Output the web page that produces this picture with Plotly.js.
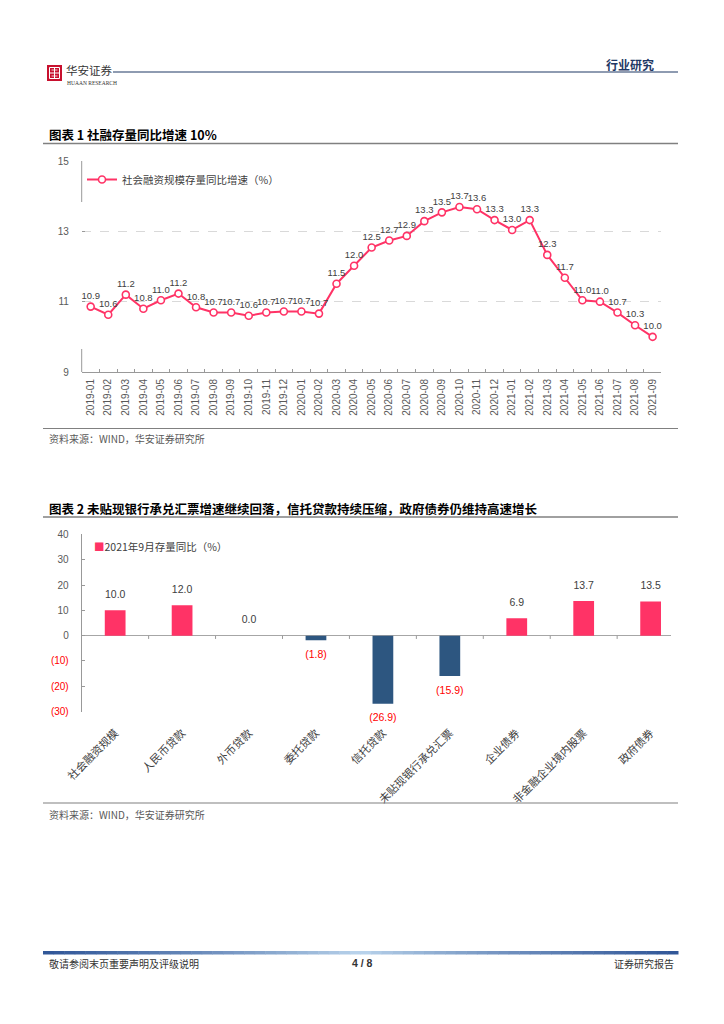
<!DOCTYPE html>
<html>
<head>
<meta charset="utf-8">
<script src="https://cdn.plot.ly/plotly-3.0.1.min.js"></script>
<style>
html,body{margin:0;padding:0;background:#ffffff;}
#chart{width:724px;height:1024px;}
</style>
</head>
<body>
<div id="chart"></div>
<script>
// ---------- DATA ----------
const months = ['2019-01','2019-02','2019-03','2019-04','2019-05','2019-06','2019-07','2019-08','2019-09','2019-10','2019-11','2019-12',
  '2020-01','2020-02','2020-03','2020-04','2020-05','2020-06','2020-07','2020-08','2020-09','2020-10','2020-11','2020-12',
  '2021-01','2021-02','2021-03','2021-04','2021-05','2021-06','2021-07','2021-08','2021-09'];
const tsfGrowth = [10.86,10.63,11.20,10.80,11.04,11.23,10.84,10.69,10.69,10.60,10.69,10.72,
  10.72,10.66,11.51,12.02,12.54,12.74,12.87,13.29,13.54,13.69,13.63,13.32,
  13.04,13.32,12.33,11.68,11.04,11.00,10.69,10.33,10.00];
const tsfSeriesName = '社会融资规模存量同比增速（%）';
const y1Ticks = [9, 11, 13, 15];

const categories = ['社会融资规模','人民币贷款','外币贷款','委托贷款','信托贷款','未贴现银行承兑汇票','企业债券','非金融企业境内股票','政府债券'];
const sep2021 = [10.0, 12.0, 0.0, -1.8, -26.9, -15.9, 6.9, 13.7, 13.5];
const barSeriesName = '2021年9月存量同比（%）';
const y2Ticks = [-30, -20, -10, 0, 10, 20, 30, 40];

// ---------- HELPERS ----------
const W = 724, H = 1024;
const px = x => x / W;
const py = y => 1 - y / H;
const PINK = '#FF3366', BLUE = '#2D5680', GRAY = '#595959';
const CJK = '"Noto Sans CJK SC", sans-serif';
const NUM = 'Arial, "Liberation Sans", "Noto Sans CJK SC", sans-serif';

const fmtBar = v => v < 0 ? '(' + (-v).toFixed(1) + ')' : v.toFixed(1);
const fmtTick = v => v < 0 ? '<span style="color:#FF0000">(' + (-v) + ')</span>' : String(v);

// ---------- TRACES ----------
const traces = [
  {
    type: 'scatter', mode: 'lines+markers+text',
    x: months, y: tsfGrowth, xaxis: 'x', yaxis: 'y',
    name: tsfSeriesName, legend: 'legend',
    line: {color: PINK, width: 2},
    marker: {symbol: 'circle', size: 7, color: '#ffffff', line: {color: PINK, width: 1.6}},
    texttemplate: '%{y:.1f}', textposition: 'top center',
    textfont: {family: NUM, size: 9.5, color: '#404040'},
    cliponaxis: false, hoverinfo: 'skip'
  },
  {
    type: 'bar', x: categories, y: sep2021, xaxis: 'x2', yaxis: 'y2',
    name: barSeriesName, showlegend: false, width: 0.31,
    marker: {color: sep2021.map(v => v < 0 ? BLUE : PINK), line: {width: 0}},
    hoverinfo: 'skip'
  },
  {
    type: 'scatter', mode: 'markers+text', x: categories, y: sep2021,
    xaxis: 'x2', yaxis: 'y2', showlegend: false,
    marker: {size: 14, opacity: 0},
    text: sep2021.map(fmtBar),
    textposition: sep2021.map(v => v < 0 ? 'bottom center' : 'top center'),
    textfont: {family: NUM, size: 10.5, color: sep2021.map(v => v < 0 ? '#FF0000' : '#404040')},
    cliponaxis: false, hoverinfo: 'skip'
  }
];

// ---------- SHAPES ----------
const shapes = [];
const line = (x0, y0, x1, y1, color, width) => shapes.push({type: 'line', xref: 'paper', yref: 'paper',
  x0: px(x0), y0: py(y0), x1: px(x1), y1: py(y1), line: {color: color, width: width}});

// header
shapes.push({type: 'rect', xref: 'paper', yref: 'paper', x0: px(47), x1: px(62), y0: py(81), y1: py(65),
  fillcolor: '#C8102E', line: {width: 0}});
shapes.push({type: 'rect', xref: 'paper', yref: 'paper', x0: px(49.5), x1: px(59.5), y0: py(78.5), y1: py(67.5),
  fillcolor: 'rgba(0,0,0,0)', line: {color: '#ffffff', width: 1}});
line(49.5, 73, 59.5, 73, '#ffffff', 1);
line(54.5, 67.5, 54.5, 78.5, '#ffffff', 1);
line(51.5, 70, 57.5, 70, '#ffffff', 0.8);
line(51.5, 76, 57.5, 76, '#ffffff', 0.8);
line(113, 72, 678, 72, '#1F3864', 1.2);

// chart 1 title + source
line(43, 143.5, 678, 143.5, '#808080', 1.5);
line(43, 428.5, 678, 428.5, '#808080', 1.2);
// chart 1 partial y axis line
line(81.7, 161, 81.7, 202, '#999999', 1);
line(81.7, 349, 81.7, 372, '#999999', 1);

// chart 2 title + source
line(43, 517, 678, 517, '#808080', 1.5);
line(43, 803, 678, 803, '#808080', 1.2);
// chart 2 boundary ticks on zero line
for (let i = 0; i < categories.length - 1; i++) {
  shapes.push({type: 'line', xref: 'x2', yref: 'y2', x0: i + 0.5, x1: i + 0.5, y0: 0, y1: -1.3,
    line: {color: '#999999', width: 1}});
}

// footer gradient bar
const segs = 60, fx0 = 43, fx1 = 678;
const c1 = [47, 85, 151], c2 = [189, 215, 238];
for (let i = 0; i < segs; i++) {
  const t = Math.abs((i + 0.5) / segs - 0.5) * 2;
  const c = c1.map((a, k) => Math.round(c2[k] + (a - c2[k]) * Math.pow(t, 0.8)));
  shapes.push({type: 'rect', xref: 'paper', yref: 'paper',
    x0: px(fx0 + (fx1 - fx0) * i / segs), x1: px(fx0 + (fx1 - fx0) * (i + 1) / segs + 0.5),
    y0: py(954.5), y1: py(951), fillcolor: 'rgb(' + c.join(',') + ')', line: {width: 0}});
}

// ---------- ANNOTATIONS ----------
const ann = (x, y, text, opts) => Object.assign({xref: 'paper', yref: 'paper', x: px(x), y: py(y), text: text,
  showarrow: false, xanchor: 'left', yanchor: 'middle', font: {family: CJK, size: 10, color: GRAY}}, opts || {});
const annotations = [
  ann(64, 70, '华安证券', {font: {family: CJK, size: 11.5, color: '#333333'}}),
  ann(65, 82.5, 'HUAAN RESEARCH', {font: {family: '"Liberation Serif", serif', size: 5.5, color: '#333333'}}),
  ann(656, 64.5, '<b>行业研究</b>', {xanchor: 'right', font: {family: CJK, size: 12, color: '#1F3864'}}),
  ann(47, 134.5, '<b>图表 1 社融存量同比增速 10%</b>', {font: {family: CJK, size: 12.5, color: '#000000'}}),
  ann(47, 438, '资料来源：WIND，华安证券研究所', {font: {family: CJK, size: 10, color: GRAY}}),
  ann(47, 508, '<b>图表 2 未贴现银行承兑汇票增速继续回落，信托贷款持续压缩，政府债券仍维持高速增长</b>',
      {font: {family: CJK, size: 12.5, color: '#000000'}}),
  ann(92, 546, '<span style="color:' + PINK + '">■</span>' + barSeriesName,
      {font: {family: CJK, size: 10.5, color: '#404040'}}),
  ann(47, 814, '资料来源：WIND，华安证券研究所', {font: {family: CJK, size: 10, color: GRAY}}),
  ann(47, 963, '敬请参阅末页重要声明及评级说明', {font: {family: CJK, size: 10, color: '#333333'}}),
  ann(362, 963, '<b>4 / 8</b>', {xanchor: 'center', font: {family: NUM, size: 10.5, color: '#333333'}}),
  ann(676, 963, '证券研究报告', {xanchor: 'right', font: {family: CJK, size: 10, color: '#333333'}})
];

// ---------- LAYOUT ----------
const layout = {
  width: W, height: H,
  margin: {l: 0, r: 0, t: 0, b: 0},
  paper_bgcolor: '#ffffff', plot_bgcolor: 'rgba(0,0,0,0)',
  showlegend: true,
  font: {family: NUM, color: GRAY},
  xaxis: {
    domain: [px(81.9), px(661.4)], anchor: 'y', type: 'category',
    range: [-0.5, months.length - 0.5], tickangle: -90,
    tickfont: {family: NUM, size: 10, color: GRAY}, ticklabelstandoff: 2,
    ticks: 'inside', tickson: 'boundaries', ticklen: 3, tickcolor: '#999999',
    showline: true, linecolor: '#999999', linewidth: 1, showgrid: false, zeroline: false,
    fixedrange: true
  },
  yaxis: {
    domain: [py(372), py(161)], anchor: 'x', range: [9, 15],
    tickvals: y1Ticks, ticks: 'inside', ticklen: 3, tickcolor: '#999999',
    tickfont: {family: NUM, size: 10, color: GRAY}, ticklabelstandoff: 12,
    showline: false, showgrid: true, gridcolor: '#D9D9D9', griddash: 'dash', gridwidth: 1,
    zeroline: false, fixedrange: true
  },
  xaxis2: {
    domain: [px(81.7), px(670.7)], anchor: 'y2', type: 'category',
    range: [-0.5, 8.3], tickangle: -45,
    tickfont: {family: CJK, size: 11, color: '#404040'}, ticklabelstandoff: 12,
    ticks: '', showline: false, showgrid: false, zeroline: false, fixedrange: true
  },
  yaxis2: {
    domain: [py(711.6), py(534.4)], anchor: 'x2', range: [-30, 40],
    tickvals: y2Ticks, ticktext: y2Ticks.map(fmtTick),
    ticks: 'inside', ticklen: 3, tickcolor: '#999999',
    tickfont: {family: NUM, size: 10, color: GRAY}, ticklabelstandoff: 10,
    showline: true, linecolor: '#999999', linewidth: 1, showgrid: false,
    zeroline: true, zerolinecolor: '#A6A6A6', zerolinewidth: 1, fixedrange: true
  },
  legend: {
    x: px(82), y: py(165), xanchor: 'left', yanchor: 'top',
    bgcolor: 'rgba(0,0,0,0)', font: {family: CJK, size: 10.5, color: '#404040'},
    itemwidth: 30
  },
  shapes: shapes,
  annotations: annotations
};

Plotly.newPlot('chart', traces, layout, {displayModeBar: false, staticPlot: true});
</script>
</body>
</html>
